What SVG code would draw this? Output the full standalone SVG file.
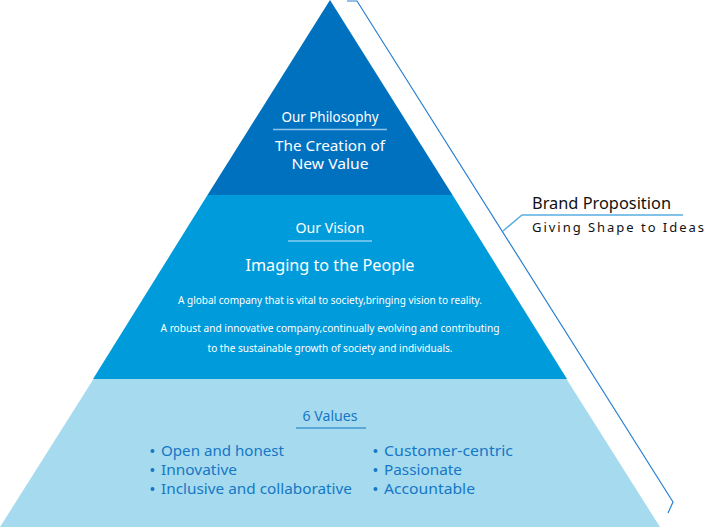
<svg xmlns="http://www.w3.org/2000/svg" width="707" height="527" viewBox="0 0 707 527">
<style>
text{font-family:"Noto Sans","Open Sans","Liberation Sans",sans-serif}
.w{fill:#ffffff;text-anchor:middle}
.b{fill:#1577c6}
.ul{stroke:#8cc3ea;stroke-width:1.5}
</style>
<rect width="707" height="527" fill="#ffffff"/>
<g id="values">
<polygon points="93.5,379 566.5,379 660,527 0,527" fill="#a6daee"/>
<text x="330" y="421" class="b" font-size="14" text-anchor="middle" textLength="55" lengthAdjust="spacingAndGlyphs">6 Values</text>
<line x1="296" y1="428" x2="366" y2="428" stroke="#1577c6" stroke-width="1.2"/>
<g fill="#1577c6">
<circle cx="152.5" cy="451" r="2"/><circle cx="152.5" cy="470" r="2"/><circle cx="152.5" cy="489" r="2"/>
<circle cx="375.5" cy="451" r="2"/><circle cx="375.5" cy="470" r="2"/><circle cx="375.5" cy="489" r="2"/>
</g>
<g class="b" font-size="15">
<text x="161" y="456" textLength="123" lengthAdjust="spacingAndGlyphs">Open and honest</text>
<text x="161" y="475" textLength="76" lengthAdjust="spacingAndGlyphs">Innovative</text>
<text x="161" y="494" textLength="191" lengthAdjust="spacingAndGlyphs">Inclusive and collaborative</text>
<text x="384" y="456" textLength="129" lengthAdjust="spacingAndGlyphs">Customer-centric</text>
<text x="384" y="475" textLength="78" lengthAdjust="spacingAndGlyphs">Passionate</text>
<text x="384" y="494" textLength="91" lengthAdjust="spacingAndGlyphs">Accountable</text>
</g>
</g>
<g id="vision">
<polygon points="207.5,195 452.5,195 567,379 93,379" fill="#009bdb"/>
<text x="330" y="233" class="w" font-size="14" textLength="69" lengthAdjust="spacingAndGlyphs">Our Vision</text>
<line x1="288" y1="241" x2="372" y2="241" stroke="#cde9f7" stroke-width="1.2"/>
<text x="330" y="271" class="w" font-size="17" textLength="169" lengthAdjust="spacingAndGlyphs">Imaging to the People</text>
<text x="330" y="304" class="w" font-size="11" textLength="304" lengthAdjust="spacingAndGlyphs">A global company that is vital to society,bringing vision to reality.</text>
<text x="330" y="332" class="w" font-size="11" textLength="339" lengthAdjust="spacingAndGlyphs">A robust and innovative company,continually evolving and contributing</text>
<text x="330" y="352" class="w" font-size="11" textLength="245" lengthAdjust="spacingAndGlyphs">to the sustainable growth of society and individuals.</text>
</g>
<g id="philosophy">
<polygon points="330,0 452.5,195 207.5,195" fill="#0071bf"/>
<text x="330" y="122" class="w" font-size="14" textLength="97" lengthAdjust="spacingAndGlyphs">Our Philosophy</text>
<line x1="273" y1="129.5" x2="387" y2="129.5" class="ul"/>
<text x="330" y="151" class="w" font-size="14" textLength="110" lengthAdjust="spacingAndGlyphs">The Creation of</text>
<text x="330" y="169" class="w" font-size="14" textLength="77" lengthAdjust="spacingAndGlyphs">New Value</text>
</g>
<g id="connectors" fill="none">
<path d="M347,1 H357 L673,502 L668,513" stroke="#2a80d2" stroke-width="1.2"/>
<path d="M503,231 L522,215 H683" stroke="#5aaee2" stroke-width="1.5"/>
</g>
<g id="brand">
<text x="532" y="209" font-size="16" fill="#111111" textLength="139" lengthAdjust="spacingAndGlyphs">Brand Proposition</text>
<text x="532" y="232" font-size="13" fill="#111111" letter-spacing="2" textLength="174" lengthAdjust="spacing">Giving Shape to Ideas</text>
</g>
</svg>
